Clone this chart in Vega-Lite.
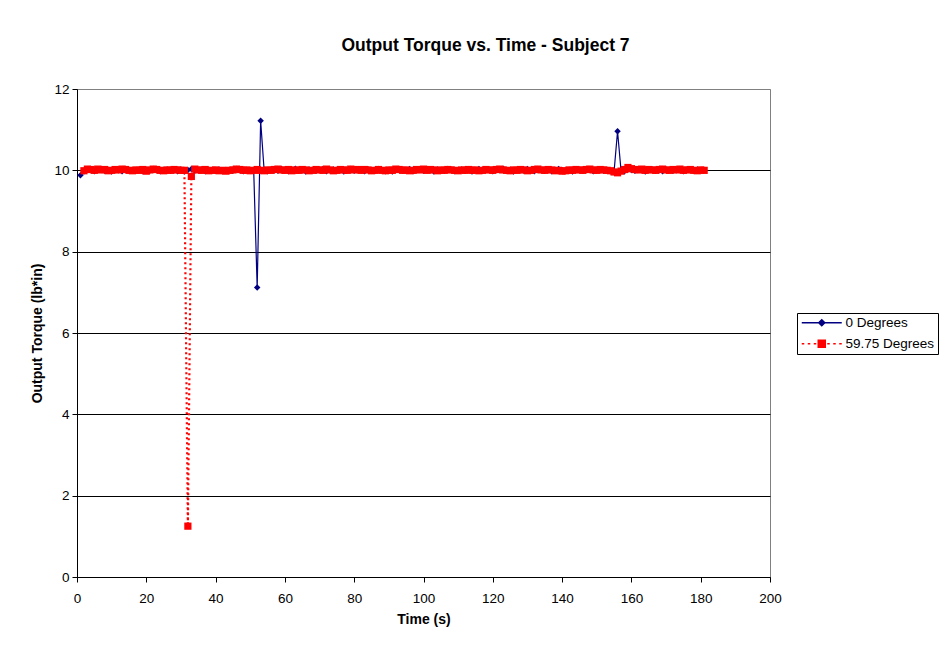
{
  "$schema": "https://vega.github.io/schema/vega-lite/v6.json",
  "autosize": {"type": "none"},
  "padding": {"left": 77, "top": 89, "right": 171, "bottom": 72},
  "width": 693,
  "height": 488,
  "background": "white",
  "title": {
    "text": "Output Torque vs. Time - Subject 7",
    "font": "Liberation Sans",
    "fontSize": 17.5,
    "fontWeight": "bold",
    "color": "black",
    "anchor": "middle",
    "baseline": "alphabetic",
    "dx": 62,
    "offset": 14
  },
  "config": {
    "view": {"stroke": "#808080", "strokeWidth": 1},
    "axis": {
      "labelFont": "Liberation Sans",
      "labelFontSize": 13.5,
      "labelColor": "black",
      "labelFlush": false,
      "titleFont": "Liberation Sans",
      "titleFontSize": 14,
      "titleFontWeight": "bold",
      "titleColor": "black",
      "domainColor": "black",
      "tickColor": "black",
      "tickSize": 5
    },
    "legend": {
      "labelFont": "Liberation Sans",
      "labelFontSize": 13.5,
      "labelColor": "black"
    }
  },
  "datasets": {
    "zeroDeg": [
      {"t":1,"v":9.88},{"t":2,"v":9.97},{"t":3,"v":10.02},{"t":4,"v":10.0},{"t":5,"v":9.98},{"t":6,"v":10.01},{"t":7,"v":10.03},{"t":8,"v":9.99},{"t":9,"v":10.0},{"t":10,"v":9.97},
      {"t":11,"v":10.02},{"t":12,"v":10.0},{"t":13,"v":9.98},{"t":14,"v":10.03},{"t":15,"v":10.01},{"t":16,"v":9.99},{"t":17,"v":10.0},{"t":18,"v":10.02},{"t":19,"v":9.98},{"t":20,"v":10.01},
      {"t":21,"v":9.99},{"t":22,"v":10.03},{"t":23,"v":10.0},{"t":24,"v":9.98},{"t":25,"v":10.01},{"t":26,"v":10.02},{"t":27,"v":9.99},{"t":28,"v":10.0},{"t":29,"v":9.98},{"t":30,"v":10.02},
      {"t":31,"v":9.97},{"t":32,"v":10.01},{"t":33,"v":10.03},{"t":34,"v":9.99},{"t":35,"v":10.0},{"t":36,"v":10.02},{"t":37,"v":9.98},{"t":38,"v":10.01},{"t":39,"v":10.0},{"t":40,"v":9.99},
      {"t":41,"v":10.02},{"t":42,"v":9.98},{"t":43,"v":10.01},{"t":44,"v":10.0},{"t":45,"v":9.99},{"t":46,"v":10.03},{"t":47,"v":10.0},{"t":48,"v":9.98},{"t":49,"v":10.01},{"t":50,"v":10.0},
      {"t":51,"v":9.99},{"t":52,"v":7.12},{"t":53,"v":11.22},{"t":54,"v":10.01},{"t":55,"v":9.98},{"t":56,"v":10.02},{"t":57,"v":10.0},{"t":58,"v":9.99},{"t":59,"v":10.03},{"t":60,"v":10.0},
      {"t":61,"v":9.98},{"t":62,"v":10.01},{"t":63,"v":10.04},{"t":64,"v":9.99},{"t":65,"v":10.0},{"t":66,"v":9.97},{"t":67,"v":10.02},{"t":68,"v":10.0},{"t":69,"v":9.99},{"t":70,"v":10.01},
      {"t":71,"v":10.03},{"t":72,"v":9.98},{"t":73,"v":10.0},{"t":74,"v":10.02},{"t":75,"v":9.99},{"t":76,"v":10.01},{"t":77,"v":9.97},{"t":78,"v":10.0},{"t":79,"v":10.03},{"t":80,"v":9.99},
      {"t":81,"v":10.01},{"t":82,"v":10.0},{"t":83,"v":9.98},{"t":84,"v":10.02},{"t":85,"v":10.0},{"t":86,"v":9.99},{"t":87,"v":10.03},{"t":88,"v":10.01},{"t":89,"v":9.98},{"t":90,"v":10.0},
      {"t":91,"v":9.97},{"t":92,"v":10.02},{"t":93,"v":10.0},{"t":94,"v":9.99},{"t":95,"v":10.01},{"t":96,"v":10.03},{"t":97,"v":9.98},{"t":98,"v":10.0},{"t":99,"v":10.02},{"t":100,"v":9.99},
      {"t":101,"v":10.01},{"t":102,"v":10.0},{"t":103,"v":9.97},{"t":104,"v":10.02},{"t":105,"v":10.0},{"t":106,"v":9.99},{"t":107,"v":10.03},{"t":108,"v":10.01},{"t":109,"v":9.98},{"t":110,"v":10.0},
      {"t":111,"v":10.02},{"t":112,"v":9.99},{"t":113,"v":10.01},{"t":114,"v":9.97},{"t":115,"v":10.0},{"t":116,"v":10.03},{"t":117,"v":9.99},{"t":118,"v":10.01},{"t":119,"v":10.0},{"t":120,"v":9.98},
      {"t":121,"v":10.02},{"t":122,"v":10.0},{"t":123,"v":10.04},{"t":124,"v":9.99},{"t":125,"v":10.01},{"t":126,"v":9.97},{"t":127,"v":10.0},{"t":128,"v":10.02},{"t":129,"v":9.99},{"t":130,"v":10.03},
      {"t":131,"v":10.0},{"t":132,"v":9.98},{"t":133,"v":10.01},{"t":134,"v":10.0},{"t":135,"v":9.99},{"t":136,"v":10.02},{"t":137,"v":9.98},{"t":138,"v":10.01},{"t":139,"v":10.03},{"t":140,"v":10.0},
      {"t":141,"v":9.99},{"t":142,"v":10.01},{"t":143,"v":9.97},{"t":144,"v":10.02},{"t":145,"v":10.0},{"t":146,"v":9.99},{"t":147,"v":10.03},{"t":148,"v":10.01},{"t":149,"v":9.98},{"t":150,"v":10.0},
      {"t":151,"v":10.02},{"t":152,"v":9.99},{"t":153,"v":10.01},{"t":154,"v":9.98},{"t":155,"v":9.97},{"t":156,"v":10.96},{"t":157,"v":10.0},{"t":158,"v":9.98},{"t":159,"v":10.02},{"t":160,"v":10.01},
      {"t":161,"v":9.99},{"t":162,"v":10.03},{"t":163,"v":10.0},{"t":164,"v":9.97},{"t":165,"v":10.01},{"t":166,"v":10.02},{"t":167,"v":9.99},{"t":168,"v":10.0},{"t":169,"v":9.98},{"t":170,"v":10.02},
      {"t":171,"v":10.01},{"t":172,"v":9.99},{"t":173,"v":10.0},{"t":174,"v":10.03},{"t":175,"v":9.98},{"t":176,"v":10.01},{"t":177,"v":10.0},{"t":178,"v":9.99},{"t":179,"v":10.02},{"t":180,"v":10.0}
    ],
    "deg5975": [
      {"t":2,"v":9.99},{"t":3,"v":10.03},{"t":4,"v":10.02},{"t":5,"v":10.0},{"t":6,"v":10.03},{"t":7,"v":10.01},{"t":8,"v":10.02},{"t":9,"v":9.99},{"t":10,"v":10.0},{"t":11,"v":10.02},
      {"t":12,"v":10.01},{"t":13,"v":10.03},{"t":14,"v":10.02},{"t":15,"v":10.0},{"t":16,"v":9.99},{"t":17,"v":10.01},{"t":18,"v":10.0},{"t":19,"v":10.02},{"t":20,"v":9.98},{"t":21,"v":10.01},
      {"t":22,"v":10.03},{"t":23,"v":10.02},{"t":24,"v":10.0},{"t":25,"v":9.99},{"t":26,"v":10.01},{"t":27,"v":10.0},{"t":28,"v":10.02},{"t":29,"v":10.01},{"t":30,"v":10.0},{"t":31,"v":10.0},
      {"t":32,"v":1.25},{"t":33,"v":9.85},{"t":34,"v":10.03},{"t":35,"v":10.01},{"t":36,"v":10.0},{"t":37,"v":10.02},{"t":38,"v":9.99},{"t":39,"v":10.0},{"t":40,"v":10.01},{"t":41,"v":9.99},
      {"t":42,"v":10.0},{"t":43,"v":9.98},{"t":44,"v":10.0},{"t":45,"v":10.01},{"t":46,"v":10.03},{"t":47,"v":10.02},{"t":48,"v":10.0},{"t":49,"v":10.01},{"t":50,"v":9.99},{"t":51,"v":10.0},
      {"t":52,"v":10.02},{"t":53,"v":10.0},{"t":54,"v":9.99},{"t":55,"v":10.01},{"t":56,"v":10.0},{"t":57,"v":10.02},{"t":58,"v":10.03},{"t":59,"v":10.01},{"t":60,"v":10.0},{"t":61,"v":10.02},
      {"t":62,"v":9.99},{"t":63,"v":10.01},{"t":64,"v":10.0},{"t":65,"v":10.02},{"t":66,"v":10.01},{"t":67,"v":9.99},{"t":68,"v":10.0},{"t":69,"v":10.02},{"t":70,"v":10.01},{"t":71,"v":10.0},
      {"t":72,"v":10.03},{"t":73,"v":10.01},{"t":74,"v":9.99},{"t":75,"v":10.0},{"t":76,"v":10.02},{"t":77,"v":10.01},{"t":78,"v":10.0},{"t":79,"v":10.03},{"t":80,"v":10.01},{"t":81,"v":10.02},
      {"t":82,"v":10.0},{"t":83,"v":10.02},{"t":84,"v":10.01},{"t":85,"v":9.99},{"t":86,"v":10.0},{"t":87,"v":10.02},{"t":88,"v":10.0},{"t":89,"v":9.99},{"t":90,"v":10.01},{"t":91,"v":10.0},
      {"t":92,"v":10.03},{"t":93,"v":10.02},{"t":94,"v":10.0},{"t":95,"v":10.01},{"t":96,"v":9.99},{"t":97,"v":10.0},{"t":98,"v":10.02},{"t":99,"v":10.01},{"t":100,"v":10.03},{"t":101,"v":10.0},
      {"t":102,"v":10.02},{"t":103,"v":10.01},{"t":104,"v":9.99},{"t":105,"v":10.01},{"t":106,"v":10.0},{"t":107,"v":10.02},{"t":108,"v":10.01},{"t":109,"v":10.0},{"t":110,"v":9.99},{"t":111,"v":10.01},
      {"t":112,"v":10.0},{"t":113,"v":10.02},{"t":114,"v":10.0},{"t":115,"v":10.01},{"t":116,"v":9.99},{"t":117,"v":10.0},{"t":118,"v":10.02},{"t":119,"v":10.01},{"t":120,"v":10.0},{"t":121,"v":10.02},
      {"t":122,"v":10.03},{"t":123,"v":10.01},{"t":124,"v":10.0},{"t":125,"v":9.99},{"t":126,"v":10.01},{"t":127,"v":10.0},{"t":128,"v":10.02},{"t":129,"v":10.01},{"t":130,"v":9.99},{"t":131,"v":10.0},
      {"t":132,"v":10.02},{"t":133,"v":10.03},{"t":134,"v":10.01},{"t":135,"v":10.0},{"t":136,"v":10.02},{"t":137,"v":10.01},{"t":138,"v":9.99},{"t":139,"v":10.0},{"t":140,"v":9.98},{"t":141,"v":9.99},
      {"t":142,"v":10.01},{"t":143,"v":10.0},{"t":144,"v":10.02},{"t":145,"v":10.01},{"t":146,"v":10.0},{"t":147,"v":10.02},{"t":148,"v":10.03},{"t":149,"v":10.01},{"t":150,"v":10.0},{"t":151,"v":10.02},
      {"t":152,"v":10.01},{"t":153,"v":10.0},{"t":154,"v":9.99},{"t":155,"v":9.96},{"t":156,"v":9.94},{"t":157,"v":9.98},{"t":158,"v":10.02},{"t":159,"v":10.07},{"t":160,"v":10.04},{"t":161,"v":10.02},
      {"t":162,"v":10.01},{"t":163,"v":10.03},{"t":164,"v":10.0},{"t":165,"v":10.02},{"t":166,"v":10.01},{"t":167,"v":10.0},{"t":168,"v":10.02},{"t":169,"v":10.03},{"t":170,"v":10.01},{"t":171,"v":10.0},
      {"t":172,"v":10.02},{"t":173,"v":10.01},{"t":174,"v":10.03},{"t":175,"v":10.0},{"t":176,"v":10.01},{"t":177,"v":10.02},{"t":178,"v":10.0},{"t":179,"v":9.99},{"t":180,"v":10.01},{"t":181,"v":10.0}
    ],
    "seriesNames": [
      {"series": "0 Degrees"},
      {"series": "59.75 Degrees"}
    ]
  },
  "encoding": {
    "x": {
      "field": "t",
      "type": "quantitative",
      "title": "Time (s)",
      "scale": {"domain": [0, 200], "nice": false, "zero": false},
      "axis": {
        "values": [0, 20, 40, 60, 80, 100, 120, 140, 160, 180, 200],
        "grid": false,
        "labelPadding": 9,
        "titlePadding": 8
      }
    },
    "y": {
      "field": "v",
      "type": "quantitative",
      "title": "Output Torque (lb*in)",
      "scale": {"domain": [0, 12], "nice": false},
      "axis": {
        "values": [0, 2, 4, 6, 8, 10, 12],
        "grid": true,
        "gridColor": {"condition": {"test": "datum.value === 12", "value": "#808080"}, "value": "#000000"},
        "gridOpacity": 1,
        "labelPadding": 3,
        "titlePadding": 9
      }
    }
  },
  "layer": [
    {
      "data": {"name": "zeroDeg"},
      "mark": {"type": "line", "color": "#000080", "strokeWidth": 1.2}
    },
    {
      "data": {"name": "zeroDeg"},
      "mark": {"type": "point", "shape": "diamond", "filled": true, "color": "#000080", "size": 42, "opacity": 1}
    },
    {
      "data": {"name": "deg5975"},
      "mark": {"type": "line", "color": "#FF0000", "strokeWidth": 2.2, "strokeDash": [2, 3]}
    },
    {
      "data": {"name": "deg5975"},
      "mark": {"type": "square", "color": "#FF0000", "size": 52, "opacity": 1}
    },
    {
      "data": {"name": "seriesNames"},
      "transform": [{"filter": "false"}],
      "mark": {"type": "point", "filled": true, "opacity": 1, "strokeWidth": 1.5},
      "encoding": {
        "x": null,
        "y": null,
        "color": {
          "field": "series",
          "type": "nominal",
          "scale": {"domain": ["0 Degrees", "59.75 Degrees"], "range": ["#000080", "#FF0000"]},
          "legend": {
            "title": null,
            "orient": "none",
            "legendX": 720,
            "legendY": 224,
            "strokeColor": "black",
            "padding": 3,
            "symbolSize": 100,
            "labelOffset": 32,
            "rowPadding": 6
          }
        },
        "stroke": {
          "field": "series",
          "type": "nominal",
          "scale": {"domain": ["0 Degrees", "59.75 Degrees"], "range": ["#000080", "#FF0000"]}
        },
        "shape": {
          "field": "series",
          "type": "nominal",
          "scale": {
            "domain": ["0 Degrees", "59.75 Degrees"],
            "range": [
              "M-1,0H7M3,-0.6L3.6,0L3,0.6L2.4,0Z",
              "M-1,0H-0.5M0.2,0H0.7M1.4,0H1.9M4.1,0H4.6M5.3,0H5.8M6.5,0H7M2.3,-0.7H3.7V0.7H2.3Z"
            ]
          }
        }
      }
    }
  ]
}
